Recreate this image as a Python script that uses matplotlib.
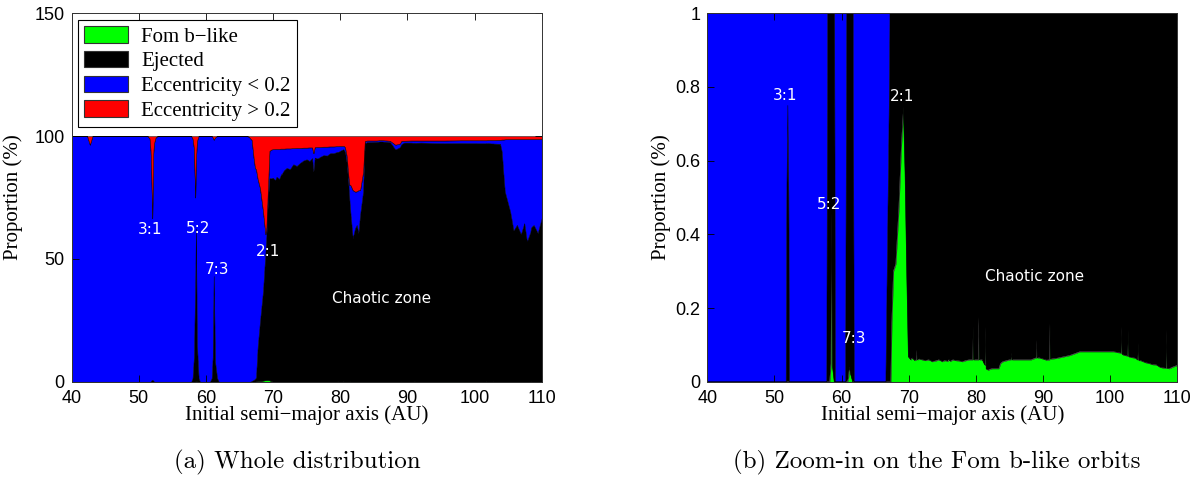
import matplotlib
matplotlib.use("Agg")
import matplotlib.pyplot as plt
from matplotlib.patches import Patch

# ---------------- data (in %) ----------------
semi_major_au = [40.0, 42.3, 42.7, 43.1, 51.3, 51.6, 51.75, 51.85, 52.0, 52.15, 52.25, 52.5, 52.8,
                 57.8, 58.0, 58.2, 58.4, 58.5, 58.65, 58.9, 59.1,
                 60.6, 60.85, 61.0, 61.15, 61.35, 61.65, 61.9,
                 66.1, 66.4, 66.6, 66.8, 67.1, 67.3, 67.45, 67.7, 68.05, 68.5, 68.85, 69.0, 69.2, 69.45, 69.7,
                 69.94, 70.3, 70.5, 70.9, 71.12, 71.2, 71.28, 71.6, 72.0, 72.5, 73.0, 73.5, 74.0, 74.5, 75.0,
                 75.4, 75.8, 76.0, 76.2, 76.6, 77.0, 77.5, 78.0, 78.5, 79.0, 79.52, 79.6, 79.68, 80.0, 80.37,
                 80.45, 80.53, 80.7, 80.95, 81.2, 81.37, 81.45, 81.53, 81.85, 82.2, 82.45, 82.7, 82.95, 83.4, 83.65,
                 84.0, 85.0, 85.22, 85.3, 85.38, 86.0, 87.4, 88.2, 88.9, 88.98,
                 89.06, 89.14, 89.5, 90.55, 90.96, 91.04, 91.12, 92.0, 93.0, 94.0,
                 95.5, 98.0, 100.5, 101.62, 101.7, 101.78, 101.96, 102.62, 102.7, 102.78,
                 103.8, 104.05, 104.12, 104.2, 104.28, 104.5, 105.3, 105.8, 106.3, 106.9,
                 107.4, 107.8, 108.32, 108.4, 108.48, 108.8, 109.4, 110.0]

fom_like = [0, 0, 0, 0, 0, 0, 0, 0, 0, 0, 0, 0, 0,
            0, 0, 0, 0.05, 0.46, 0.04, 0, 0,
            0, 0, 0.01, 0.04, 0.02, 0, 0,
            0, 0, 0, 0, 0, 0, 0.16, 0.30, 0.32, 0.47, 0.63, 0.68, 0.746, 0.566, 0.294,
            0.068, 0.06, 0.065, 0.058, 0.06, 0.086, 0.06, 0.062, 0.06, 0.058, 0.06, 0.055, 0.057, 0.06, 0.055,
            0.058, 0.056, 0.06, 0.056, 0.06, 0.058, 0.057, 0.055, 0.058, 0.06, 0.06, 0.15, 0.06, 0.06, 0.06,
            0.176, 0.06, 0.06, 0.06, 0.05, 0.045, 0.149, 0.035, 0.032, 0.035, 0.036, 0.036, 0.036, 0.036, 0.05,
            0.055, 0.06, 0.06, 0.077, 0.06, 0.06, 0.06, 0.06, 0.065, 0.065,
            0.113, 0.065, 0.065, 0.059, 0.06, 0.158, 0.062, 0.064, 0.068, 0.072,
            0.082, 0.082, 0.082, 0.078, 0.149, 0.075, 0.073, 0.07, 0.14, 0.068,
            0.064, 0.06, 0.06, 0.104, 0.058, 0.058, 0.052, 0.05, 0.047, 0.046,
            0.04, 0.038, 0.037, 0.14, 0.037, 0.036, 0.041, 0.045]

ejected = [0, 0, 0, 0, 0, 0, 0, 0.5, 0.75, 0.5, 0, 0, 0,
           0, 1.5, 10, 40, 62, 15, 1.5, 0,
           0, 1.5, 10, 43, 8, 1.5, 0,
           0, 0, 0, 0.3, 0.75, 1.2, 1.6, 14, 24.5, 36.6, 52, 59, 72, 82.3, 82.5,
           83, 82.0, 83.4, 82.5, 84.0, 84.5, 84.5, 86.0, 87.0, 86.5, 88.5, 87.8, 89.0, 90.0, 90.5,
           89.8, 91.0, 85.5, 91.2, 90.8, 91.5, 92.2, 92.0, 93.0, 93.0, 93.5, 93.5, 93.5, 94.0, 94.5,
           94.5, 94.3, 93.6, 89.0, 80.5, 73.5, 70.6, 68.0, 58.4, 62.5, 63.8, 60.5, 67.9, 77.4, 97.0,
           97.5, 97.6, 97.6, 97.6, 97.6, 97.8, 97.5, 94.5, 95.5, 96.0,
           96.5, 96.7, 97.3, 97.3, 97.2, 97.2, 97.2, 97.3, 97.2, 97.1,
           97.0, 97.1, 97.0, 97.0, 97.0, 97.0, 97.1, 96.9, 96.9, 96.9,
           96.8, 93.6, 91.0, 88.0, 85.0, 77.4, 69.2, 61.5, 63.8, 60.0,
           64.5, 57.0, 61.0, 62.5, 63.0, 63.8, 60.5, 66.6]

ecc_low = [100, 100, 96.5, 100, 100, 99, 94, 84.5, 65.75, 92.5, 97, 99.5, 100,
           100, 97.5, 85, 34.95, 27.54, 82.96, 98.5, 100,
           100, 98.5, 89.49, 55.46, 91.48, 98.5, 100,
           100, 99.7, 99, 98.2, 90.25, 85.8, 84.74, 68.2, 53.88, 32.13, 7.37, 3.32, 4.254, 11.134, 11.706,
           11.632, 12.74, 11.335, 12.242, 10.84, 10.314, 10.34, 8.838, 7.94, 8.442, 6.54, 7.345, 6.143, 5.24, 4.745,
           5.542, 4.344, 7.44, 4.244, 4.74, 4.042, 3.443, 3.645, 2.742, 2.74, 2.34, 2.25, 2.34, 1.94, 1.44,
           1.324, 1.64, 1.84, 2.94, 3.45, 6.455, 9.251, 11.965, 19.568, 14.865, 13.664, 17.464, 10.064, 8.064, 0.95,
           0.645, 0.54, 0.54, 0.523, 0.54, 0.54, 0.54, 1.94, 1.435, 1.435,
           1.387, 1.335, 0.735, 0.841, 0.94, 0.842, 0.938, 0.836, 0.932, 1.028,
           1.118, 1.118, 1.218, 1.222, 1.151, 1.225, 1.227, 1.43, 1.36, 1.432,
           1.636, 4.94, 7.54, 10.496, 13.542, 21.242, 29.548, 37.25, 34.953, 38.754,
           34.26, 41.762, 37.763, 36.16, 35.763, 34.964, 38.259, 32.155]

ecc_high = [0, 0, 3.5, 0, 0, 1, 6, 15, 33.5, 7, 3, 0.5, 0,
            0, 1, 5, 25, 10, 2, 0, 0,
            0, 0, 0.5, 1.5, 0.5, 0, 0,
            0, 0.3, 1, 1.5, 9, 13, 13.5, 17.5, 21.3, 30.8, 40, 37, 23, 6, 5.5,
            5.3, 5.2, 5.2, 5.2, 5.1, 5.1, 5.1, 5.1, 5.0, 5.0, 4.9, 4.8, 4.8, 4.7, 4.7,
            4.6, 4.6, 7.0, 4.5, 4.4, 4.4, 4.3, 4.3, 4.2, 4.2, 4.1, 4.1, 4.1, 4.0, 4.0,
            4.0, 4.0, 4.5, 8.0, 16, 20, 20, 20, 22, 22.6, 22.5, 22.0, 22, 14.5, 2.0,
            1.8, 1.8, 1.8, 1.8, 1.8, 1.6, 1.9, 3.5, 3.0, 2.5,
            2.0, 1.9, 1.9, 1.8, 1.8, 1.8, 1.8, 1.8, 1.8, 1.8,
            1.8, 1.7, 1.7, 1.7, 1.7, 1.7, 1.6, 1.6, 1.6, 1.6,
            1.5, 1.4, 1.4, 1.4, 1.4, 1.3, 1.2, 1.2, 1.2, 1.2,
            1.2, 1.2, 1.2, 1.2, 1.2, 1.2, 1.2, 1.2]

series_labels = ["Fom b\u2212like", "Ejected", "Eccentricity < 0.2", "Eccentricity > 0.2"]
series_colors = ["#00ff00", "#000000", "#0000ff", "#ff0000"]

left_yticks = [0, 50, 100, 150]
right_yticks = [0, 0.2, 0.4, 0.6, 0.8, 1]
right_yticklabels = ["0", "0.2", "0.4", "0.6", "0.8", "1"]
xticks = [40, 50, 60, 70, 80, 90, 100, 110]

# ---------------- figure ----------------
fig = plt.figure(figsize=(11.99, 4.79), dpi=100)
ax1 = fig.add_axes([0.0598, 0.2031, 0.392, 0.7691])
ax2 = fig.add_axes([0.5899, 0.2031, 0.392, 0.7691])

tick_font = dict(family=["Liberation Sans Narrow", "Liberation Sans", "DejaVu Sans"], size=13)
label_font = dict(family=["Liberation Serif", "DejaVu Serif"], size=15)
note_font = dict(family="DejaVu Sans", size=11, color="white")

for ax in (ax1, ax2):
    ax.stackplot(semi_major_au, fom_like, ejected, ecc_low, ecc_high,
                 colors=series_colors, edgecolor="black", linewidth=0.35)
    ax.set_xlim(40, 110)
    ax.set_xticks(xticks)
    ax.set_xticklabels([str(t) for t in xticks], **tick_font)
    ax.tick_params(direction="in", top=True, right=True, length=5, width=0.6)
    ax.tick_params(axis="x", pad=6)
    ax.tick_params(axis="y", pad=5)
    for s in ax.spines.values():
        s.set_linewidth(0.7)
        s.set_color("#333333")
    ax.set_xlabel("Initial semi\u2212major axis (AU)", labelpad=-1, **label_font)

ax1.set_ylabel("Proportion (%)", labelpad=8, **label_font)
ax2.set_ylabel("Proportion (%)", labelpad=3, **label_font)

ax1.set_ylim(0, 150)
ax1.set_yticks(left_yticks)
ax1.set_yticklabels([str(t) for t in left_yticks], **tick_font)

ax2.set_ylim(0, 1)
ax2.set_yticks(right_yticks)
ax2.set_yticklabels(right_yticklabels, **tick_font)

# annotations
ax1.text(51.7, 61.8, "3:1", ha="center", va="center", **note_font)
ax1.text(58.75, 62.2, "5:2", ha="center", va="center", **note_font)
ax1.text(61.6, 45.5, "7:3", ha="center", va="center", **note_font)
ax1.text(69.3, 52.9, "2:1", ha="center", va="center", **note_font)
ax1.text(86.2, 34.0, "Chaotic zone", ha="center", va="center", **note_font)

ax2.text(51.57, 0.778, "3:1", ha="center", va="center", **note_font)
ax2.text(58.17, 0.48, "5:2", ha="center", va="center", **note_font)
ax2.text(61.9, 0.118, "7:3", ha="center", va="center", **note_font)
ax2.text(68.95, 0.774, "2:1", ha="center", va="center", **note_font)
ax2.text(88.8, 0.285, "Chaotic zone", ha="center", va="center", **note_font)

handles = [Patch(facecolor=c, edgecolor="#333333", linewidth=0.8) for c in series_colors]
leg = ax1.legend(handles, series_labels, loc="upper left", bbox_to_anchor=(0.013, 0.982),
                 borderaxespad=0, fancybox=False, framealpha=1, edgecolor="black",
                 prop=dict(family=["Liberation Serif", "DejaVu Serif"], size=15),
                 handlelength=2.1, handleheight=0.85, handletextpad=0.65, labelspacing=0.2,
                 borderpad=0.3)
leg.get_frame().set_linewidth(0.8)

fig.text(0.248, 0.034, "(a) Whole distribution", ha="center", va="center",
         family="cmr10", size=18)
fig.text(0.781, 0.034, "(b) Zoom-in on the Fom b-like orbits", ha="center", va="center",
         family="cmr10", size=18)

fig.savefig("out.png", dpi=100)
